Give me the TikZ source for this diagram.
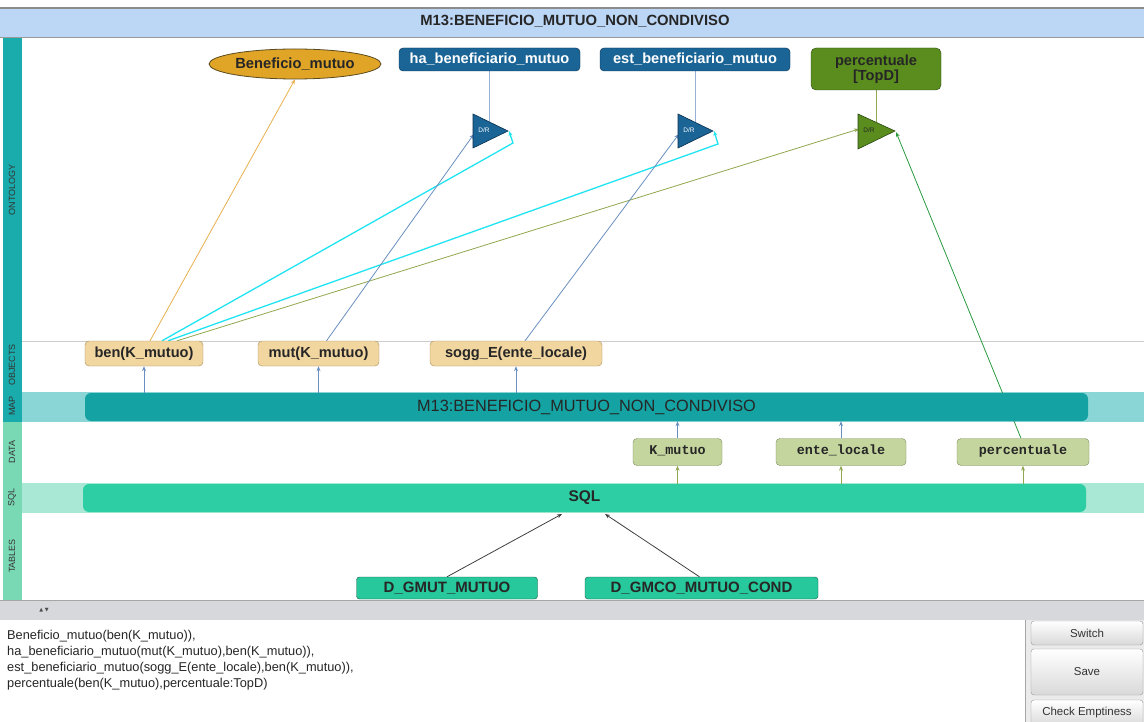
\documentclass[tikz,border=0pt]{standalone}
\usepackage{fontspec}
\setmainfont{Liberation Sans}
\setmonofont{Liberation Mono}
\newfontfamily\symfont{DejaVu Sans}
\usetikzlibrary{arrows.meta,calc,shapes.geometric}
\pgfdeclarelayer{bg}\pgfdeclarelayer{edges}\pgfsetlayers{bg,edges,main}
\definecolor{titlebg}{HTML}{BCD6F6}
\definecolor{strip}{HTML}{1AACAC}
\definecolor{stripb}{HTML}{7AD9B5}
\definecolor{mapbar}{HTML}{14A2A2}
\definecolor{mapstripe}{HTML}{8AD6D6}
\definecolor{sqlbar}{HTML}{2DCEA3}
\definecolor{sqlstripe}{HTML}{A8E8D4}
\definecolor{mofill}{HTML}{F2D6A0}
\definecolor{mobord}{HTML}{A88C5C}
\definecolor{dfill}{HTML}{C4D59E}
\definecolor{dbord}{HTML}{7A8A5A}
\definecolor{tfill}{HTML}{26C89C}
\definecolor{tbord}{HTML}{1A5A48}
\definecolor{ellfill}{HTML}{E0A426}
\definecolor{ellbord}{HTML}{5A4A20}
\definecolor{relblue}{HTML}{1A6496}
\definecolor{relbord}{HTML}{0A3050}
\definecolor{relgreen}{HTML}{5A8C1E}
\definecolor{relgbord}{HTML}{2A4A10}
\definecolor{orangeline}{HTML}{E8B050}
\definecolor{blueline}{HTML}{6A8FC0}
\definecolor{cyanline}{HTML}{20E4F2}
\definecolor{oliveline}{HTML}{90A850}
\definecolor{greenline}{HTML}{2A9A40}
\definecolor{panelgray}{HTML}{D6D8DC}
\begin{document}
\begin{tikzpicture}[x=1pt,y=-1pt,
  lbl/.style={rotate=90,font=\fontsize{9}{10}\selectfont,text=black!80},
  mapobj/.style={draw=mobord,fill=mofill,rounded corners=4pt,inner sep=0pt,minimum height=25pt,
    text height=10.5pt,text depth=3pt,
    font=\fontsize{14.6}{16}\selectfont\bfseries,text=black!85},
  datan/.style={draw=dbord,fill=dfill,rounded corners=4pt,inner sep=0pt,minimum height=27pt,
    text height=8pt,text depth=2.5pt,
    font=\fontsize{13.4}{15}\selectfont\ttfamily\bfseries,text=black!85},
  tablen/.style={draw=tbord,fill=tfill,rounded corners=3pt,inner sep=0pt,minimum height=22pt,
    text height=10.8pt,text depth=2pt,
    font=\fontsize{15}{16}\selectfont\bfseries,text=black!85},
  relb/.style={draw=relbord,fill=relblue,rounded corners=4pt,inner sep=0pt,minimum height=23pt,
    text height=10.5pt,text depth=3pt,
    font=\fontsize{14.6}{16}\selectfont\bfseries,text=white},
  tri/.style={line width=0.6pt},
  trilab/.style={font=\fontsize{6.5}{7}\selectfont,inner sep=0pt},
  conn/.style={-{Stealth[length=5pt,width=4pt]},line width=0.8pt},
  btn/.style={draw=black!40,top color=white,bottom color=black!15,rounded corners=3pt,inner sep=0pt,
    font=\fontsize{11.5}{13}\selectfont,text=black!80}
]
\useasboundingbox (0,0) rectangle (1144,722);
\begin{pgfonlayer}{bg}
  \fill[white] (0,0) rectangle (1144,722);
  % title bar
  \fill[titlebg] (0,8) rectangle (1144,37);
  \draw[black!45,line width=1.2pt] (0,8) -- (1144,8);
  \draw[black!40,line width=0.8pt] (0,37) -- (1144,37);
  % left strip
  \fill[strip] (3,38) rectangle (22,422);
  \fill[stripb] (3,422) rectangle (22,600);
  % separator
  \draw[black!20,line width=0.8pt] (22,341) -- (1144,341);
  % map stripe
  \fill[mapstripe] (22,392) rectangle (1144,422);
  % sql stripe
  \fill[sqlstripe] (22,483) rectangle (1144,513);
  % bottom panel
  \fill[panelgray] (0,600) rectangle (1144,620);
  \draw[black!35,line width=0.8pt] (0,600) -- (1144,600);
  \fill[black!8] (1025,620) rectangle (1144,722);
  \draw[black!35] (1025,620) -- (1025,722);
\end{pgfonlayer}

\node[font=\fontsize{14.8}{16}\selectfont\bfseries,text=black!85] (title) at (575,21) {M13:BENEFICIO\_MUTUO\_NON\_CONDIVISO};

% layer labels
\node[lbl] (lonto) at (12,190) {ONTOLOGY};
\node[lbl] (lmo) at (12,365) {OBJECTS};
\node[lbl] (lmap) at (12,406) {MAP};
\node[lbl] (ldata) at (12,452) {DATA};
\node[lbl] (lsql) at (12,497) {SQL};
\node[lbl] (ltab) at (12,556) {TABLES};

% ontology nodes
\node[draw=ellbord,fill=ellfill,ellipse,line width=0.8pt,minimum width=172pt,minimum height=30pt,inner sep=0pt,
  font=\fontsize{14.7}{16}\selectfont\bfseries,text=black!85] (benef) at (295,64) {Beneficio\_mutuo};
\node[relb,minimum width=181pt] (ha) at (489.5,59.5) {ha\_beneficiario\_mutuo};
\node[relb,minimum width=190pt] (est) at (695,59.5) {est\_beneficiario\_mutuo};
\node[draw=relgbord,fill=relgreen,rounded corners=5pt,inner sep=0pt,minimum width=130pt,minimum height=42pt,
  align=center,font=\fontsize{14.6}{17}\selectfont\bfseries,text=black!85] (perc) at (876,69) {percentuale\\[-2pt][TopD]};

% triangles
\draw[tri,draw=relbord,fill=relblue] (473,114) -- (508,131) -- (473,148) -- cycle;
\node[trilab,text=white] (t1) at (484,130) {D/R};
\coordinate (t1tip) at (509,131);
\coordinate (t1left) at (474,134);
\draw[tri,draw=relbord,fill=relblue] (678,114) -- (713,131) -- (678,148) -- cycle;
\node[trilab,text=white] (t2) at (689,130) {D/R};
\coordinate (t2tip) at (714,131);
\coordinate (t2left) at (679,134);
\draw[tri,draw=relgbord,fill=relgreen] (858,114) -- (895,131) -- (858,149) -- cycle;
\node[trilab,text=black!85] (t3) at (869,130) {D/R};
\coordinate (t3tip) at (896,132);
\coordinate (t3left) at (859,129);

% map objects
\node[mapobj,minimum width=118pt] (ben) at (144,353.5) {ben(K\_mutuo)};
\node[mapobj,minimum width=121pt] (mut) at (318.5,353.5) {mut(K\_mutuo)};
\node[mapobj,minimum width=172pt] (sogg) at (516,353.5) {sogg\_E(ente\_locale)};

% map bar
\node[fill=mapbar,rounded corners=6pt,minimum width=1003pt,minimum height=28pt,inner sep=0pt,
  font=\fontsize{16.3}{18}\selectfont,text=black!85] (map) at (586.5,407) {M13:BENEFICIO\_MUTUO\_NON\_CONDIVISO};

% data nodes
\node[datan,minimum width=89pt] (kmut) at (677.5,452) {K\_mutuo};
\node[datan,minimum width=130pt] (ente) at (841,452) {ente\_locale};
\node[datan,minimum width=132pt] (pdata) at (1023,452) {percentuale};

% sql bar
\node[fill=sqlbar,rounded corners=6pt,minimum width=1003pt,minimum height=28pt,inner sep=0pt,
  font=\fontsize{15.5}{17}\selectfont\bfseries,text=black!85] (sql) at (584.5,498) {SQL};

% tables
\node[tablen,minimum width=181pt] (gmut) at (447,588) {D\_GMUT\_MUTUO};
\node[tablen,minimum width=233pt] (gmco) at (701.5,588) {D\_GMCO\_MUTUO\_COND};

% edges
\begin{pgfonlayer}{edges}
  \draw[blueline!70!white,line width=0.8pt] (ha.south) -- (489.5,124);
  \draw[blueline!70!white,line width=0.8pt] (est.south) -- (695,124);
  \draw[oliveline,line width=0.8pt] (perc.south) -- (876,122);
  \draw[conn,orangeline] ($(ben.north)+(6,0)$) -- (benef.south);
  \draw[conn,cyanline,line width=1.3pt] ($(ben.north)+(18,0)$) -- (513,143) -- (t1tip);
  \draw[conn,cyanline,line width=1.3pt] ($(ben.north)+(24,0)$) -- (718,144) -- (t2tip);
  \draw[conn,oliveline] ($(ben.north)+(33,0)$) -- (t3left);
  \draw[conn,blueline] ($(mut.north)+(8,0)$) -- (t1left);
  \draw[conn,blueline] ($(sogg.north)+(9,0)$) -- (t2left);
  \draw[conn,greenline] ($(pdata.north)+(-2,0)$) -- (t3tip);
  % map -> map objects
  \draw[conn,blueline] (map.north -| ben.south) -- (ben.south);
  \draw[conn,blueline] (map.north -| mut.south) -- (mut.south);
  \draw[conn,blueline] (map.north -| sogg.south) -- (sogg.south);
  % data -> map
  \draw[conn,blueline] (kmut.north) -- (map.south -| kmut.north);
  \draw[conn,blueline] (ente.north) -- (map.south -| ente.north);
  % sql -> data
  \draw[conn,oliveline] (sql.north -| kmut.south) -- (kmut.south);
  \draw[conn,oliveline] (sql.north -| ente.south) -- (ente.south);
  \draw[conn,oliveline] (sql.north -| pdata.south) -- (pdata.south);
  % tables -> sql
  \draw[conn,black!75] (gmut.north) -- (562,514);
  \draw[conn,black!75] ($(gmco.north)+(-2,0)$) -- (605,514);
\end{pgfonlayer}

% bottom panel
\node[font=\symfont\fontsize{5}{6}\selectfont,text=black!70] (arrows) at (44,610) {▲ ▼};
\node[anchor=north west,align=left,inner sep=0pt,font=\fontsize{12.8}{16}\selectfont,text=black!85] (expr) at (7,630)
  {Beneficio\_mutuo(ben(K\_mutuo)),\\
   ha\_beneficiario\_mutuo(mut(K\_mutuo),ben(K\_mutuo)),\\
   est\_beneficiario\_mutuo(sogg\_E(ente\_locale),ben(K\_mutuo)),\\
   percentuale(ben(K\_mutuo),percentuale:TopD)};
\node[btn,minimum width=112pt,minimum height=24pt] (switch) at (1087,633) {Switch};
\node[btn,minimum width=112pt,minimum height=46pt] (save) at (1087,672) {Save};
\node[btn,minimum width=112pt,minimum height=26pt] (check) at (1087,713) {Check Emptiness};
\end{tikzpicture}
\end{document}
